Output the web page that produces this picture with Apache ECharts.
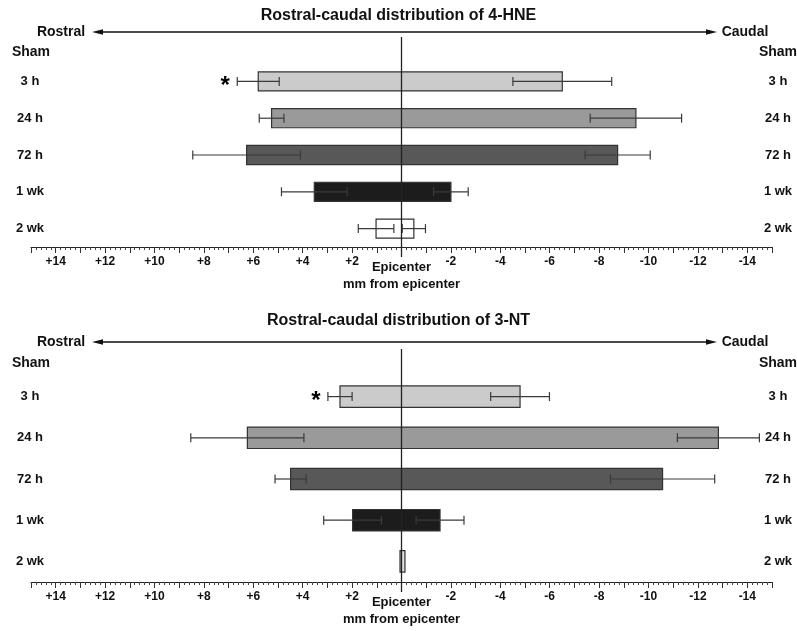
<!DOCTYPE html>
<html>
<head>
<meta charset="utf-8">
<script src="https://cdn.jsdelivr.net/npm/echarts@6/dist/echarts.min.js"></script>
<style>
html,body{margin:0;padding:0;background:#fff;}
#chart{width:797px;height:631px;}
</style>
</head>
<body>
<div id="chart"></div>
<script>
// ---- data (mm from epicenter; + = rostral, - = caudal) ----
const categories = ['3 h', '24 h', '72 h', '1 wk', '2 wk'];
const headerLabel = 'Sham';
const xTickValues = [14, 12, 10, 8, 6, 4, 2, 0, -2, -4, -6, -8, -10, -12, -14];

const hneRostral    = [5.80, 5.26, 6.27, 3.53, 1.03];
const hneRostralErr = [0.85, 0.50, 2.18, 1.33, 0.72];
const hneCaudal     = [-6.51, -9.49, -8.75, -2.00, -0.50];
const hneCaudalErr  = [2.00, 1.85, 1.32, 0.70, 0.47];
const hneSignif     = ['*', '', '', '', ''];

const ntRostral     = [2.49, 6.24, 4.49, 1.98, 0.06];
const ntRostralErr  = [0.49, 2.29, 0.63, 1.17, 0];
const ntCaudal      = [-4.80, -12.83, -10.57, -1.56, -0.14];
const ntCaudalErr   = [1.19, 1.66, 2.11, 0.97, 0];
const ntSignif      = ['*', '', '', '', ''];

const hneColors = ['#cbcbcb', '#9a9a9a', '#585858', '#1c1c1c', '#ffffff'];
const ntColors  = ['#cbcbcb', '#9a9a9a', '#585858', '#1c1c1c', '#dedede'];

const titles = ['Rostral-caudal distribution of 4-HNE', 'Rostral-caudal distribution of 3-NT'];

// ---- styling ----
const FF = '"Liberation Sans", Arial, Helvetica, sans-serif';
const TXT = '#111';

function buildData(ro, roE, ca, caE, sig) {
  return categories.map((c, i) => [i, ro[i], ca[i], roE[i], caE[i], sig[i]]);
}

function makeRender(colors) {
  return function (params, api) {
    const i = api.value(0);
    const ro = api.value(1), ca = api.value(2), roE = api.value(3), caE = api.value(4);
    const sig = api.value(5);
    const pL = api.coord([ro, i]);
    const pR = api.coord([ca, i]);
    const band = api.size([0, 1])[1];
    const h = band * 0.52;
    const y = pL[1];
    const children = [];
    children.push({
      type: 'rect',
      shape: { x: Math.min(pL[0], pR[0]), y: y - h / 2, width: Math.abs(pR[0] - pL[0]), height: h },
      style: { fill: colors[i], stroke: '#333', lineWidth: 1.2 }
    });
    const cap = 4.5;
    function err(v, e) {
      if (!e) return;
      const a = api.coord([v + e, i])[0];
      const b = api.coord([v - e, i])[0];
      const st = { stroke: '#3a3a3a', lineWidth: 1.2 };
      children.push({ type: 'line', shape: { x1: a, y1: y, x2: b, y2: y }, style: st });
      children.push({ type: 'line', shape: { x1: a, y1: y - cap, x2: a, y2: y + cap }, style: st });
      children.push({ type: 'line', shape: { x1: b, y1: y - cap, x2: b, y2: y + cap }, style: st });
    }
    err(ro, roE);
    err(ca, caE);
    if (sig && String(sig).trim() !== '' && String(sig) !== '-') {
      const lx = api.coord([ro + roE, i])[0];
      children.push({
        type: 'text',
        style: { text: String(sig), x: lx - 12, y: y + 5, align: 'center', verticalAlign: 'middle',
                 fontSize: 24, fontWeight: 'bold', fontFamily: FF, fill: '#000' }
      });
    }
    return { type: 'group', children: children };
  };
}

const gridDefs = [
  { top: 63, height: 184 },
  { top: 376, height: 206 }
];

function xAxisFor(g) {
  return {
    type: 'value', gridIndex: g, min: -15, max: 15, interval: 1, inverse: true,
    axisLine: { show: true, onZero: false, lineStyle: { color: '#222', width: 1.2 } },
    axisTick: { show: true, length: 6, lineStyle: { color: '#333', width: 1 } },
    minorTick: { show: true, splitNumber: 5, length: 3, lineStyle: { color: '#444', width: 1 } },
    splitLine: { show: false },
    axisLabel: {
      margin: 9, fontSize: 12, fontWeight: 'bold', color: TXT, fontFamily: FF,
      formatter: function (v) {
        if (xTickValues.indexOf(v) < 0) return '';
        if (v === 0) return '{e|Epicenter}';
        return v > 0 ? '+' + v : '-' + Math.abs(v);
      },
      rich: { e: { fontSize: 13, fontWeight: 'bold', color: TXT, fontFamily: FF, padding: [5, 0, 0, 0] } }
    },
    name: 'mm from epicenter', nameLocation: 'middle', nameGap: 31,
    nameTextStyle: { fontSize: 13, fontWeight: 'bold', color: TXT, fontFamily: FF }
  };
}

function yAxesFor(g) {
  const base = {
    type: 'category', gridIndex: g, data: categories, inverse: true,
    axisLine: { show: false }, axisTick: { show: false }, splitLine: { show: false }
  };
  return [
    Object.assign({}, base, { position: 'left',
      axisLabel: { align: 'center', margin: 1, fontSize: 13, fontWeight: 'bold', color: TXT, fontFamily: FF } }),
    Object.assign({}, base, { position: 'right',
      axisLabel: { align: 'center', margin: 6, fontSize: 13, fontWeight: 'bold', color: TXT, fontFamily: FF } })
  ];
}

const chart = echarts.init(document.getElementById('chart'), null, { renderer: 'canvas' });

const option = {
  backgroundColor: '#fff',
  animation: false,
  title: [
    { text: titles[0], left: 'center', top: 8, padding: 0,
      textStyle: { fontSize: 16, fontWeight: 'bold', color: TXT, fontFamily: FF } },
    { text: titles[1], left: 'center', top: 313, padding: 0,
      textStyle: { fontSize: 16, fontWeight: 'bold', color: TXT, fontFamily: FF } }
  ],
  grid: gridDefs.map(d => ({ left: 31, right: 25, top: d.top, height: d.height, containLabel: false })),
  xAxis: [xAxisFor(0), xAxisFor(1)],
  yAxis: [].concat(yAxesFor(0), yAxesFor(1)),
  series: [
    {
      type: 'custom', xAxisIndex: 0, yAxisIndex: 0, clip: false,
      renderItem: makeRender(hneColors),
      encode: { y: 0, x: [1, 2] },
      data: buildData(hneRostral, hneRostralErr, hneCaudal, hneCaudalErr, hneSignif)
    },
    {
      type: 'custom', xAxisIndex: 1, yAxisIndex: 2, clip: false,
      renderItem: makeRender(ntColors),
      encode: { y: 0, x: [1, 2] },
      data: buildData(ntRostral, ntRostralErr, ntCaudal, ntCaudalErr, ntSignif)
    }
  ]
};
chart.setOption(option);

// ---- decorations: zero line, direction arrows, header labels ----
const deco = [];
const arrowY = [32, 342];
const lineTop = [37, 349];
const headerY = [52, 363];
gridDefs.forEach((d, g) => {
  const x0 = chart.convertToPixel({ xAxisIndex: g }, 0);
  const xl = chart.convertToPixel({ xAxisIndex: g }, 15);
  const xr = chart.convertToPixel({ xAxisIndex: g }, -15);
  const axisY = d.top + d.height;
  deco.push({ type: 'line', shape: { x1: x0, y1: lineTop[g], x2: x0, y2: axisY + 10 },
              style: { stroke: '#222', lineWidth: 1.3 }, z: 100 });
  const ay = arrowY[g];
  const ax1 = 92, ax2 = 717;
  deco.push({ type: 'line', shape: { x1: ax1 + 8, y1: ay, x2: ax2 - 8, y2: ay },
              style: { stroke: '#111', lineWidth: 1.5 }, z: 100 });
  deco.push({ type: 'polygon', shape: { points: [[ax1, ay], [ax1 + 11, ay - 2.8], [ax1 + 11, ay + 2.8]] },
              style: { fill: '#111' }, z: 100 });
  deco.push({ type: 'polygon', shape: { points: [[ax2, ay], [ax2 - 11, ay - 2.8], [ax2 - 11, ay + 2.8]] },
              style: { fill: '#111' }, z: 100 });
  deco.push({ type: 'text', x: 61, y: ay, style: { text: 'Rostral', align: 'center', verticalAlign: 'middle',
              fontSize: 14, fontWeight: 'bold', fill: TXT, fontFamily: FF } });
  deco.push({ type: 'text', x: 745, y: ay, style: { text: 'Caudal', align: 'center', verticalAlign: 'middle',
              fontSize: 14, fontWeight: 'bold', fill: TXT, fontFamily: FF } });
  deco.push({ type: 'text', x: xl, y: headerY[g], style: { text: headerLabel, align: 'center', verticalAlign: 'middle',
              fontSize: 14, fontWeight: 'bold', fill: TXT, fontFamily: FF } });
  deco.push({ type: 'text', x: xr + 6, y: headerY[g], style: { text: headerLabel, align: 'center', verticalAlign: 'middle',
              fontSize: 14, fontWeight: 'bold', fill: TXT, fontFamily: FF } });
});
chart.setOption({ graphic: deco });
</script>
</body>
</html>
